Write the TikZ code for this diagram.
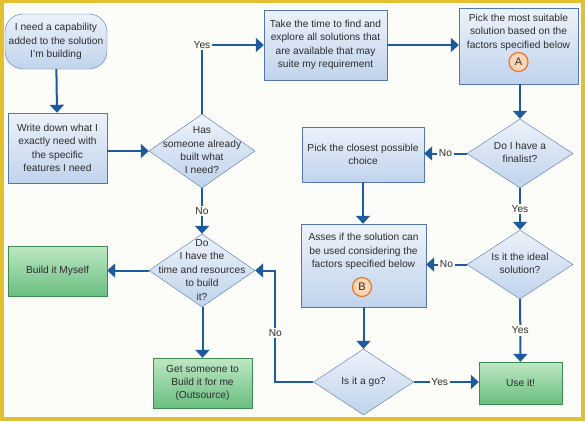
\documentclass[tikz,border=0pt]{standalone}
\usepackage{fontspec}
\setmainfont{Liberation Sans}
\usepackage{xcolor}
\usetikzlibrary{shapes.geometric,arrows.meta}
\definecolor{flowblue}{RGB}{30,90,158}
\definecolor{boxline}{RGB}{84,118,170}
\definecolor{boxtop}{RGB}{236,242,250}
\definecolor{boxbottom}{RGB}{192,211,236}
\definecolor{greenline}{RGB}{60,140,80}
\definecolor{greentop}{RGB}{190,231,196}
\definecolor{greenbottom}{RGB}{106,190,128}
\definecolor{framegold}{RGB}{226,192,48}
\definecolor{paper}{RGB}{252,252,248}
\definecolor{inkgray}{RGB}{45,45,45}
\definecolor{markfill}{RGB}{251,214,180}
\definecolor{markline}{RGB}{224,120,50}

% text inside a diamond, takes no room
\newcommand{\dtext}[1]{\raisebox{-2.6pt}[0pt][0pt]{\makebox[0pt]{\begin{tabular}{@{}c@{}}#1\end{tabular}}}}

\begin{document}
\begin{tikzpicture}[x=1pt,y=-1pt,
    font=\fontsize{10.2}{13.4}\selectfont,
    box/.style={draw=boxline, top color=boxtop, bottom color=boxbottom, align=center, text=inkgray, inner sep=2pt},
    startbox/.style={box, rounded corners=18pt},
    greenbox/.style={draw=greenline, top color=greentop, bottom color=greenbottom, align=center, text=inkgray},
    decision/.style={diamond, draw=boxline, top color=boxtop, bottom color=boxbottom, inner sep=0pt, text=inkgray},
    letterdot/.style={circle, draw=markline, fill=markfill, line width=1.2pt, minimum size=19, inner sep=0pt, text=inkgray, font=\fontsize{11}{11}\selectfont},
    flow/.style={draw=flowblue, line width=2pt, -{Triangle[width=14pt,length=8pt]}},
    answer/.style={fill=paper, inner sep=1.5pt, text=inkgray}]

        % frame
        \fill[framegold] (0,0) rectangle (585,421);
        \fill[paper] (4,2.5) rectangle (581,416.5);

        % left column
        \node[startbox, minimum width=102, minimum height=55] (need) at (56,41.5) {I need a capability\\added to the solution\\I'm building};
        \node[box, minimum width=99, minimum height=70] (write) at (57.5,148) {Write down what I\\exactly need with\\the specific\\features I need};
        \node[greenbox, minimum width=99, minimum height=50] (myself) at (57.5,271) {Build it Myself};

        % second column
        \node[decision, minimum width=106, minimum height=74] (has) at (202,151) {\dtext{Has\\someone already\\built what\\I need?}};
        \node[decision, minimum width=106, minimum height=73] (time) at (202,270.5) {\dtext{Do\\I have the\\time and resources\\to build\\it?}};
        \node[greenbox, minimum width=99, minimum height=50] (outsource) at (202.5,383) {Get someone to\\Build it for me\\(Outsource)};

        % third column
        \node[box, minimum width=123, minimum height=70] (explore) at (325.5,45) {Take the time to find and\\explore all solutions that\\are available that may\\suite my requirement};
        \node[box, minimum width=122, minimum height=55] (closest) at (363,154.5) {Pick the closest possible\\choice};
        \node[box, minimum width=125, minimum height=83, text depth=30pt] (assess) at (363.5,265.5) {Asses if the solution can\\be used considering the\\factors specified below};
        \node[letterdot] (markB) at (362,287) {B};
        \node[decision, minimum width=100, minimum height=66] (go) at (363.5,382) {\dtext{Is it a go?}};

        % right column
        \node[box, minimum width=119, minimum height=76, text depth=30pt] (suitable) at (518.5,46) {Pick the most suitable\\solution based on the\\factors specified below};
        \node[letterdot] (markA) at (518.5,62) {A};
        \node[decision, minimum width=106, minimum height=69] (finalist) at (520,153.5) {\dtext{Do I have a\\finalist?}};
        \node[decision, minimum width=106, minimum height=69] (ideal) at (520,264.5) {\dtext{Is it the ideal\\solution?}};
        \node[greenbox, minimum width=83, minimum height=42] (useit) at (520.5,383) {Use it!};

        % connectors
        \draw[flow] (need) -- (write);
        \draw[flow] (write.east |- has.west) -- (has.west);
        \draw[flow] (has.north) |- node[answer]{Yes} (explore.west);
        \draw[flow] (explore.east) -- (explore.east -| suitable.west);
        \draw[flow] (suitable.south -| finalist.north) -- (finalist.north);
        \draw[flow] (finalist.west) -- node[answer]{No} (finalist.west -| closest.east);
        \draw[flow] (finalist) -- node[answer]{Yes} (ideal);
        \draw[flow] (closest.south) -- (closest.south |- assess.north);
        \draw[flow] (ideal.west) -- node[answer]{No} (ideal.west -| assess.east);
        \draw[flow] (ideal) -- node[answer]{Yes} (useit);
        \draw[flow] (assess.south -| go.north) -- (go.north);
        \draw[flow] (go.east) -- node[answer,pos=0.4]{Yes} (go.east -| useit.west);
        \draw[flow] (go.west) -- ++(-38,0) |- node[answer,pos=0.22]{No} (time.east);
        \draw[flow] (has) -- node[answer]{No} (time);
        \draw[flow] (time.west) -- (time.west -| myself.east);
        \draw[flow] (time.south -| outsource.north) -- (outsource.north);
\end{tikzpicture}
\end{document}
